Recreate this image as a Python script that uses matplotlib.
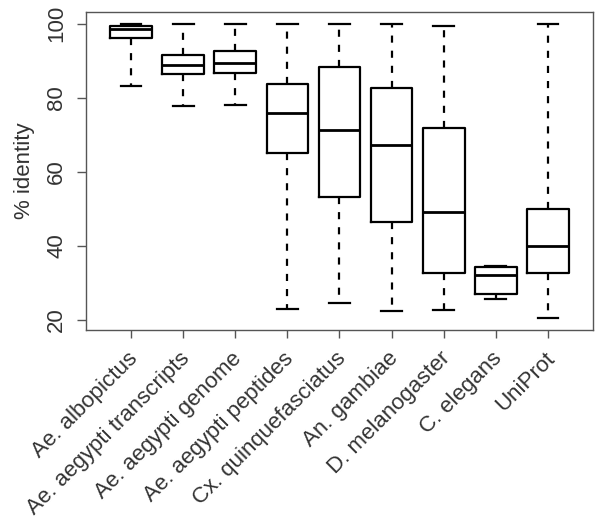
import matplotlib.pyplot as plt
import matplotlib.transforms as mtransforms

# values (percent identity)
labels = ['Ae. albopictus', 'Ae. aegypti transcripts', 'Ae. aegypti genome',
          'Ae. aegypti peptides', 'Cx. quinquefasciatus', 'An. gambiae',
          'D. melanogaster', 'C. elegans', 'UniProt']
whislo = [83.2, 77.8, 78.0, 23.0, 24.7, 22.4, 22.7, 25.8, 20.5]
q1 = [96.1, 86.5, 86.6, 65.0, 53.2, 46.6, 32.6, 27.0, 32.6]
med = [98.6, 88.8, 89.5, 75.9, 71.3, 67.3, 49.3, 32.1, 40.0]
q3 = [99.3, 91.6, 92.6, 83.7, 88.3, 82.7, 71.8, 34.4, 50.0]
whishi = [100, 100, 100, 100, 100, 100, 99.3, 34.7, 100]

plt.rcParams['font.family'] = ['Liberation Sans', 'DejaVu Sans']

stats = []
for i in range(len(labels)):
    stats.append(dict(label=labels[i], whislo=whislo[i], q1=q1[i], med=med[i],
                      q3=q3[i], whishi=whishi[i], fliers=[]))

fig = plt.figure(figsize=(6, 5.27), dpi=100)
ax = fig.add_axes([86/600, 1 - 330/527, 507/600, 318/527])

lw = 1.6
ax.bxp(stats, positions=range(1, 10), widths=0.8, capwidths=0.4,
       showfliers=False,
       boxprops=dict(color='black', linewidth=lw),
       medianprops=dict(color='black', linewidth=lw + 0.4),
       whiskerprops=dict(color='black', linewidth=lw, linestyle=(0, (3.2, 3.6))),
       capprops=dict(color='black', linewidth=lw))

txt = '#333333'
ax.set_xlim(0.136, 9.864)
ax.set_ylim(17.3, 103.2)
ax.set_yticks([20, 40, 60, 80, 100])
ax.set_yticklabels(['20', '40', '60', '80', '100'], rotation=90, va='center',
                   fontsize=16, color=txt)
ax.set_xticks(range(1, 10))
ax.set_xticklabels(labels, rotation=45, ha='right', va='top',
                   rotation_mode='anchor', fontsize=16, color=txt)
ax.tick_params(axis='y', length=6.5, width=1, color='#555555', pad=7)
ax.tick_params(axis='x', length=6, width=1, color='#555555', pad=7)
shift = mtransforms.ScaledTranslation(-4/100, 0, fig.dpi_scale_trans)
for lab in ax.get_xticklabels():
    lab.set_transform(lab.get_transform() + shift)
ax.set_ylabel('% identity', fontsize=16, color=txt, labelpad=8)
for s in ax.spines.values():
    s.set_color('#555555')
    s.set_linewidth(1)

fig.savefig('out.png', dpi=100)
